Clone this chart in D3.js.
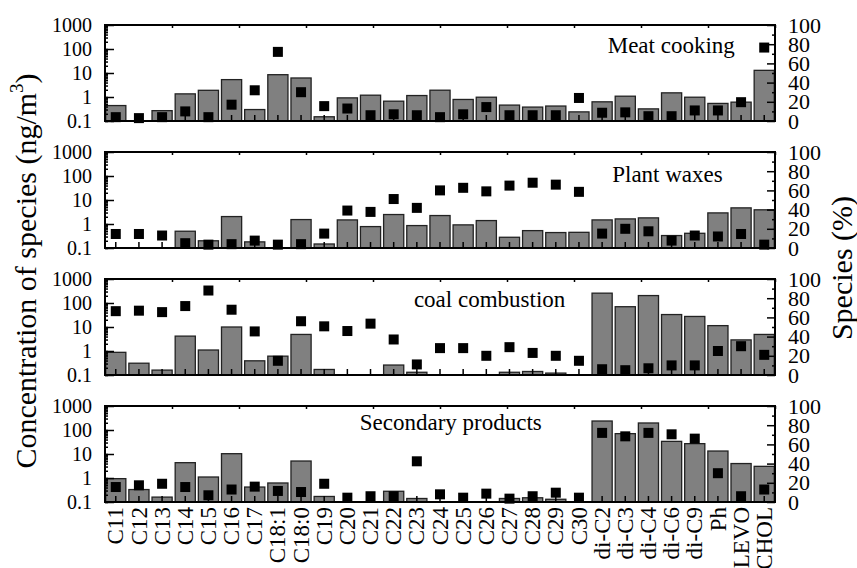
<!DOCTYPE html>
<html>
<head>
<meta charset="utf-8">
<script src="https://cdn.jsdelivr.net/npm/d3@7"></script>
<style>
  body { margin: 0; background: #fff; }
  svg { display: block; font-family: "Liberation Serif", "Times New Roman", serif; }
  .axis path, .axis line { stroke: #000; stroke-width: 1.5; }
</style>
</head>
<body>
<div id="chart"></div>
<script>
// --------------- Data ---------------
const categories = ["C11", "C12", "C13", "C14", "C15", "C16", "C17", "C18:1", "C18:0", "C19",
  "C20", "C21", "C22", "C23", "C24", "C25", "C26", "C27", "C28", "C29", "C30",
  "di-C2", "di-C3", "di-C4", "di-C6", "di-C9", "Ph", "LEVO", "CHOL"];

const panelNames = ["Meat cooking", "Plant waxes", "coal combustion", "Secondary products"];

// concentration (ng/m3, bars, log axis)
const meatConc = [0.44, null, 0.27, 1.35, 1.9, 5.3, 0.3, 8.5, 6.2, 0.15, 0.92, 1.19, 0.67, 1.15,
  1.92, 0.79, 0.98, 0.46, 0.38, 0.42, 0.24, 0.63, 1.08, 0.32, 1.49, 0.98, 0.54, 0.61, 12.9];
const plantConc = [null, null, 0.1, 0.5, 0.2, 2.04, 0.18, null, 1.53, 0.147, 1.48, 0.78, 2.48, 0.86,
  2.25, 0.92, 1.39, 0.28, 0.53, 0.44, 0.45, 1.48, 1.63, 1.8, 0.33, 0.41, 2.9, 4.7, 3.9];
const coalConc = [0.88, 0.31, 0.16, 4.17, 1.1, 10, 0.39, 0.61, 4.9, 0.17, null, null, 0.26, 0.13,
  null, null, null, 0.13, 0.14, 0.12, null, 257, 70, 204, 33, 27.5, 11.4, 2.9, 4.9];
const secConc = [0.94, 0.33, 0.16, 4.35, 1.1, 10.3, 0.42, 0.62, 5.1, 0.17, null, null, 0.28, 0.14,
  null, null, null, 0.14, 0.15, 0.13, null, 237, 70.5, 196, 33.6, 27, 13.3, 4, 3.06];

// species share (%, squares, right axis)
const meatPct = [4, 3, 4, 10, 4, 17, 32, 72, 30, 15.5, 13, 6, 7, 6,
  4, 7, 14.5, 6, 6, 6, 24, 8.6, 9, 5, 5, 11, 11, 19.6, 76.5];
const plantPct = [14.6, 14.6, 13, 5, 3.5, 4, 7.7, 3.5, 4, 15, 39, 37.6, 51, 41.8,
  60, 62.7, 59, 65, 68, 66, 58.5, 15, 20, 17.4, 7.7, 13, 12, 14.6, 3.5];
const coalPct = [66.5, 67, 65.5, 71.8, 88, 68, 45.4, 14.8, 56, 50.7, 45.8, 53.5, 37, 11,
  28, 28, 20, 29, 23, 20, 14.8, 6, 5, 7, 10, 10, 25, 30, 21];
const secPct = [15.6, 17.4, 19, 15.6, 7, 13, 16, 11.5, 10.4, 19, 4.5, 6, 6, 42.4,
  8, 4.5, 8.7, 3.5, 6, 9.7, 4.5, 72, 68.4, 72, 70.5, 66, 30, 6, 13];

const concTicks = [0.1, 1, 10, 100, 1000];
const pctTicks = [0, 20, 40, 60, 80, 100];

const panels = [
  { name: panelNames[0], conc: meatConc, pct: meatPct, labelAt: 0.94 },
  { name: panelNames[1], conc: plantConc, pct: plantPct, labelAt: 0.922 },
  { name: panelNames[2], conc: coalConc, pct: coalPct, labelAt: 0.687 },
  { name: panelNames[3], conc: secConc, pct: secPct, labelAt: 0.652 }
];

// --------------- Layout ---------------
const WIDTH = 857;
const HEIGHT = 568;
const LEFT = 105;
const PLOT_W = 670;
const PLOT_H = 96;
const FIRST_TOP = 25;
const STEP = 127;
const SQ = 10;

const svg = d3.select("#chart").append("svg")
  .attr("width", WIDTH)
  .attr("height", HEIGHT);

const x = d3.scaleBand().domain(categories).range([0, PLOT_W])
  .paddingInner(0.13).paddingOuter(0.03);
const y = d3.scaleLog().domain([0.1, 1000]).range([PLOT_H, 0]);
const yp = d3.scaleLinear().domain([0, 100]).range([PLOT_H, 0]);
const xTop = d3.scaleLinear().domain([0, 10]).range([0, PLOT_W]);

panels.forEach((p, i) => {
  const g = svg.append("g")
    .attr("transform", `translate(${LEFT},${FIRST_TOP + i * STEP})`);

  const rows = categories.map((c, k) => ({ cat: c, conc: p.conc[k], pct: p.pct[k] }));

  // bars
  g.append("g").selectAll("rect")
    .data(rows.filter(d => d.conc != null && d.conc > 0.1))
    .join("rect")
    .attr("x", d => x(d.cat))
    .attr("y", d => y(d.conc))
    .attr("width", x.bandwidth())
    .attr("height", d => PLOT_H - y(d.conc))
    .attr("fill", "#808080")
    .attr("stroke", "#222")
    .attr("stroke-width", 1.3);

  // category ticks (inward, from bottom)
  g.append("g").attr("class", "axis")
    .attr("transform", `translate(0,${PLOT_H})`)
    .call(d3.axisBottom(x).tickSize(-6).tickSizeOuter(0).tickFormat(""))
    .call(a => a.select(".domain").remove());

  // squares
  g.append("g").selectAll("rect")
    .data(rows.filter(d => d.pct != null))
    .join("rect")
    .attr("x", d => x(d.cat) + x.bandwidth() / 2 - SQ / 2)
    .attr("y", d => yp(d.pct) - SQ / 2)
    .attr("width", SQ)
    .attr("height", SQ)
    .attr("fill", "#000");

  // left log axis
  g.append("g").attr("class", "axis")
    .call(d3.axisLeft(y).tickValues(y.ticks()).tickSize(-3).tickFormat(""))
    .call(a => a.select(".domain").remove());
  g.append("g").attr("class", "axis")
    .call(d3.axisLeft(y).tickValues(concTicks).tickSize(-9).tickSizeOuter(0)
      .tickPadding(13).tickFormat(d => String(d)))
    .call(a => a.select(".domain").remove())
    .call(a => a.selectAll("text").attr("font-size", 20).attr("fill", "#000")
      .attr("font-family", "Liberation Serif"));

  // right linear axis
  g.append("g").attr("class", "axis")
    .attr("transform", `translate(${PLOT_W},0)`)
    .call(d3.axisRight(yp).tickValues(d3.range(10, 100, 20)).tickSize(-3).tickFormat(""))
    .call(a => a.select(".domain").remove());
  g.append("g").attr("class", "axis")
    .attr("transform", `translate(${PLOT_W},0)`)
    .call(d3.axisRight(yp).tickValues(pctTicks).tickSize(-8).tickSizeOuter(0)
      .tickPadding(13).tickFormat(d => String(d)))
    .call(a => a.select(".domain").remove())
    .call(a => a.selectAll("text").attr("font-size", 22).attr("fill", "#000")
      .attr("font-family", "Liberation Serif"));

  // top minor ticks
  g.append("g").attr("class", "axis")
    .call(d3.axisTop(xTop).ticks(10).tickSize(-3).tickFormat(""))
    .call(a => a.select(".domain").remove());

  // frame
  g.append("rect")
    .attr("width", PLOT_W)
    .attr("height", PLOT_H)
    .attr("fill", "none")
    .attr("stroke", "#000")
    .attr("stroke-width", 2);

  // panel label
  g.append("text")
    .attr("x", p.labelAt * PLOT_W)
    .attr("y", i === 3 ? 24 : (i === 1 ? 30 : 28))
    .attr("text-anchor", "end")
    .attr("font-size", 23)
    .text(p.name);

  // category labels on the last panel
  if (i === panels.length - 1) {
    g.append("g").selectAll("text")
      .data(categories)
      .join("text")
      .attr("transform", d => `translate(${x(d) + x.bandwidth() / 2},${PLOT_H + 5}) rotate(-90)`)
      .attr("dy", "0.33em")
      .attr("text-anchor", "end")
      .attr("font-size", 23)
      .text(d => d);
  }
});

// axis titles
const yTitle = svg.append("text")
  .attr("transform", "translate(36,271) rotate(-90)")
  .attr("text-anchor", "middle")
  .attr("font-size", 30);
yTitle.append("tspan").text("Concentration of species (ng/m");
yTitle.append("tspan").attr("font-size", 19).attr("dy", "-0.7em").text("3");
yTitle.append("tspan").attr("dy", "0.45em").text(")");

svg.append("text")
  .attr("transform", "translate(852,268) rotate(-90)")
  .attr("text-anchor", "middle")
  .attr("font-size", 30)
  .text("Species (%)");
</script>
</body>
</html>
